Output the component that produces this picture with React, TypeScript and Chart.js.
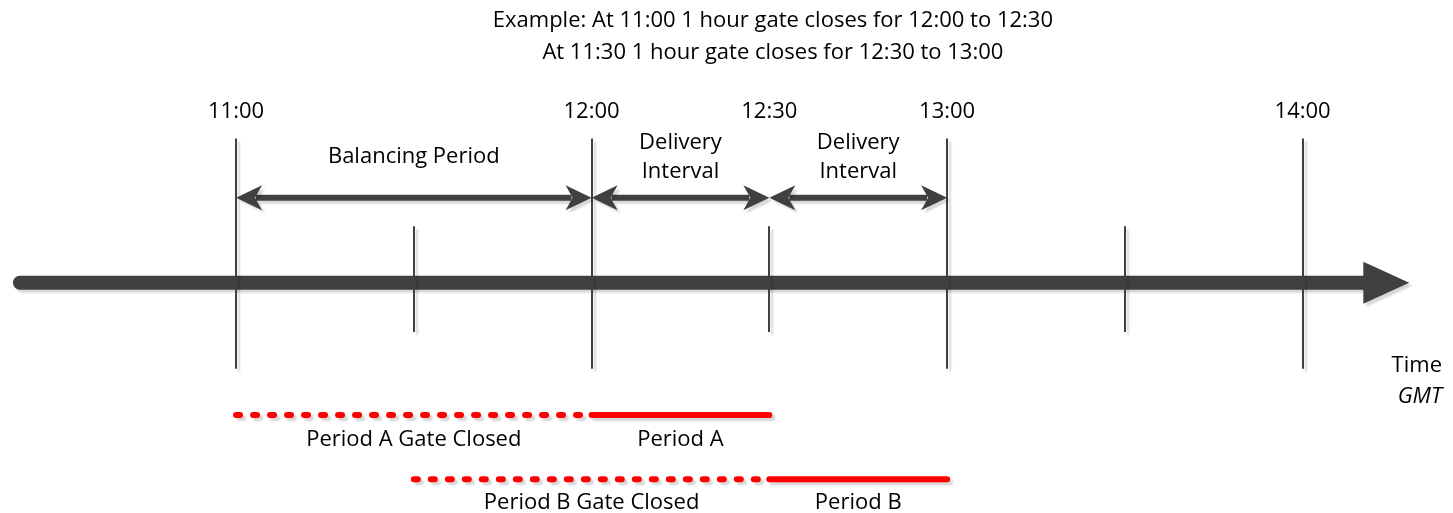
import React, { useEffect, useRef } from "react";
import { Chart, registerables } from "chart.js";

Chart.register(...registerables);

// ---------- data ----------
const titleLines = [
  "Example: At 11:00 1 hour gate closes for 12:00 to 12:30",
  "At 11:30 1 hour gate closes for 12:30 to 13:00",
];
const titleCenterTime = 12.51;
const markerTimes = [11, 11.5, 12, 12.5, 13, 13.5, 14];
const markerLabels = ["11:00", "", "12:00", "12:30", "13:00", "", "14:00"];
const markerIsHour = [true, false, true, false, true, false, true];
const spanStarts = [11, 12, 12.5];
const spanEnds = [12, 12.5, 13];
const spanLabels = [["Balancing Period"], ["Delivery", "Interval"], ["Delivery", "Interval"]];
const periodNames = ["Period A", "Period B"];
const gateClosedLabels = ["Period A Gate Closed", "Period B Gate Closed"];
const gateCloseTimes = [11, 11.5];
const periodStarts = [12, 12.5];
const periodEnds = [12.5, 13];
const axisStart = 10.392;
const axisEnd = 14.3;
const axisTitle = ["Time", "GMT"];

// ---------- layout (y in px above the time axis) ----------
const W = 1453;
const H = 513;
const X_MIN = 10.3445;
const X_MAX = 14.4145;
const Y_MIN = -230;
const Y_MAX = 283;
const LAY = {
  title: [265, 233],
  timeLabel: 173,
  hourTop: 146,
  hourBottom: -87,
  halfTop: 57,
  halfBottom: -50,
  span: 86,
  spanLabelOne: [127],
  spanLabelTwo: [142, 112],
  periodLine: [-134, -199],
  periodLabel: [-159, -223],
  axisTitle: [-84, -115],
  axisTitleRightPad: 8,
};
const DARK = "#404040";
const RED = "#ff0000";
const FONT = '"Open Sans", "Noto Sans", sans-serif';
const FONT_SIZE = 22;

function setShadow(ctx: CanvasRenderingContext2D) {
  ctx.shadowColor = "rgba(0,0,0,0.16)";
  ctx.shadowOffsetX = 3;
  ctx.shadowOffsetY = 3;
  ctx.shadowBlur = 2;
}
function clearShadow(ctx: CanvasRenderingContext2D) {
  ctx.shadowColor = "rgba(0,0,0,0)";
  ctx.shadowOffsetX = 0;
  ctx.shadowOffsetY = 0;
  ctx.shadowBlur = 0;
}

function stealthHead(ctx: CanvasRenderingContext2D, tipX: number, yy: number, dir: number) {
  const len = 26, half = 12.5, notch = 19;
  ctx.beginPath();
  ctx.moveTo(tipX, yy);
  ctx.lineTo(tipX - dir * len, yy - half);
  ctx.lineTo(tipX - dir * notch, yy);
  ctx.lineTo(tipX - dir * len, yy + half);
  ctx.closePath();
  ctx.fill();
}

const diagramPlugin = {
  id: "timelineDiagram",
  beforeDatasetsDraw(chart: any) {
    const ctx: CanvasRenderingContext2D = chart.ctx;
    const x = chart.scales.x;
    const y = chart.scales.y;
    ctx.save();
    setShadow(ctx);
    // main time axis
    const y0 = y.getPixelForValue(0);
    const xs = x.getPixelForValue(axisStart);
    const xe = x.getPixelForValue(axisEnd);
    ctx.strokeStyle = DARK;
    ctx.fillStyle = DARK;
    ctx.lineWidth = 14;
    ctx.lineCap = "round";
    ctx.beginPath();
    ctx.moveTo(xs, y0);
    ctx.lineTo(xe - 40, y0);
    ctx.stroke();
    ctx.beginPath();
    ctx.moveTo(xe, y0);
    ctx.lineTo(xe - 46, y0 - 21);
    ctx.lineTo(xe - 46, y0 + 21);
    ctx.closePath();
    ctx.fill();

    // vertical markers
    ctx.lineWidth = 2;
    ctx.lineCap = "butt";
    markerTimes.forEach((t, i) => {
      const px = Math.round(x.getPixelForValue(t));
      const top = y.getPixelForValue(markerIsHour[i] ? LAY.hourTop : LAY.halfTop);
      const bot = y.getPixelForValue(markerIsHour[i] ? LAY.hourBottom : LAY.halfBottom);
      ctx.beginPath();
      ctx.moveTo(px, top);
      ctx.lineTo(px, bot);
      ctx.stroke();
    });

    // double-headed span arrows
    const ya = y.getPixelForValue(LAY.span);
    spanStarts.forEach((s, i) => {
      const x1 = x.getPixelForValue(s);
      const x2 = x.getPixelForValue(spanEnds[i]);
      ctx.lineWidth = 6;
      ctx.beginPath();
      ctx.moveTo(x1 + 20, ya);
      ctx.lineTo(x2 - 20, ya);
      ctx.stroke();
      stealthHead(ctx, x1, ya, -1);
      stealthHead(ctx, x2, ya, 1);
    });
    ctx.restore();
    setShadow(ctx);
  },
  afterDatasetsDraw(chart: any) {
    clearShadow(chart.ctx);
  },
  afterDraw(chart: any) {
    const ctx: CanvasRenderingContext2D = chart.ctx;
    const x = chart.scales.x;
    const y = chart.scales.y;
    ctx.save();
    clearShadow(ctx);
    ctx.fillStyle = "#000";
    ctx.textAlign = "center";
    ctx.textBaseline = "middle";
    ctx.font = `${FONT_SIZE}px ${FONT}`;
    // title
    titleLines.forEach((line, i) => {
      ctx.fillText(line, x.getPixelForValue(titleCenterTime), y.getPixelForValue(LAY.title[i]));
    });
    // time labels
    markerTimes.forEach((t, i) => {
      if (markerLabels[i]) ctx.fillText(markerLabels[i], x.getPixelForValue(t), y.getPixelForValue(LAY.timeLabel));
    });
    // span labels
    spanStarts.forEach((s, i) => {
      const cx = x.getPixelForValue((s + spanEnds[i]) / 2);
      const lines = spanLabels[i];
      const ys = lines.length === 1 ? LAY.spanLabelOne : LAY.spanLabelTwo;
      lines.forEach((ln, j) => ctx.fillText(ln, cx, y.getPixelForValue(ys[j])));
    });
    // period labels
    periodNames.forEach((name, i) => {
      const ly = y.getPixelForValue(LAY.periodLabel[i]);
      ctx.fillText(gateClosedLabels[i], x.getPixelForValue((gateCloseTimes[i] + periodStarts[i]) / 2), ly);
      ctx.fillText(name, x.getPixelForValue((periodStarts[i] + periodEnds[i]) / 2), ly);
    });
    // axis title
    ctx.textAlign = "right";
    const rx = chart.chartArea.right - LAY.axisTitleRightPad;
    ctx.fillText(axisTitle[0], rx, y.getPixelForValue(LAY.axisTitle[0]));
    ctx.font = `italic ${FONT_SIZE}px ${FONT}`;
    ctx.fillText(axisTitle[1], rx, y.getPixelForValue(LAY.axisTitle[1]));
    ctx.restore();
  },
};

export default function App() {
  const canvasRef = useRef<HTMLCanvasElement | null>(null);

  useEffect(() => {
    const canvas = canvasRef.current;
    if (!canvas) return;

    const datasets: any[] = [];
    periodNames.forEach((name, i) => {
      const ly = LAY.periodLine[i];
      datasets.push({
        label: `${name} gate closed`,
        data: [
          { x: gateCloseTimes[i], y: ly },
          { x: periodStarts[i], y: ly },
        ],
        borderColor: RED,
        borderWidth: 6,
        borderDash: [4, 13],
        borderCapStyle: "round",
        pointRadius: 0,
        fill: false,
      });
      datasets.push({
        label: name,
        data: [
          { x: periodStarts[i], y: ly },
          { x: periodEnds[i], y: ly },
        ],
        borderColor: RED,
        borderWidth: 6,
        borderCapStyle: "round",
        pointRadius: 0,
        fill: false,
      });
    });

    const chart = new Chart(canvas, {
      type: "line",
      data: { datasets },
      options: {
        animation: false,
        responsive: false,
        maintainAspectRatio: false,
        layout: { padding: 0 },
        events: [],
        plugins: {
          legend: { display: false },
          tooltip: { enabled: false },
          title: { display: false },
        },
        scales: {
          x: { type: "linear", min: X_MIN, max: X_MAX, display: false },
          y: { type: "linear", min: Y_MIN, max: Y_MAX, display: false },
        },
      } as any,
      plugins: [diagramPlugin],
    });

    let alive = true;
    if ((document as any).fonts && (document as any).fonts.load) {
      Promise.all([
        (document as any).fonts.load(`${FONT_SIZE}px "Open Sans"`),
        (document as any).fonts.load(`italic ${FONT_SIZE}px "Open Sans"`),
      ]).then(() => {
        if (alive) chart.update();
      }).catch(() => {});
    }

    return () => {
      alive = false;
      chart.destroy();
    };
  }, []);

  return (
    <div style={{ position: "fixed", left: 0, top: 0, width: W, height: H, background: "#fff" }}>
      <canvas ref={canvasRef} width={W} height={H} style={{ display: "block", width: W, height: H }} />
    </div>
  );
}
